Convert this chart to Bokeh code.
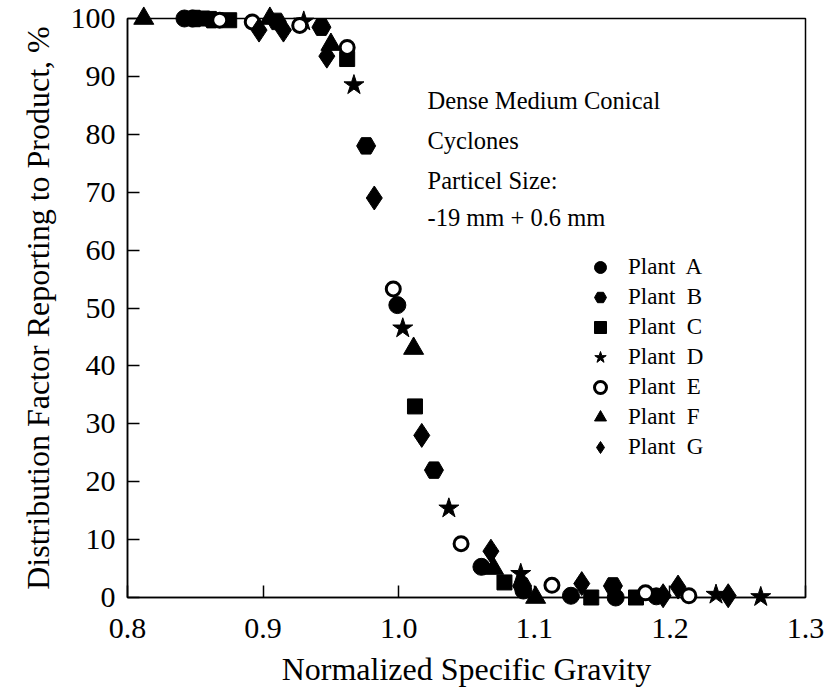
from bokeh.plotting import figure
from bokeh.models import (ColumnDataSource, FixedTicker, PrintfTickFormatter,
                          Label, Legend, LegendItem, Range1d)
from bokeh.embed import file_html
from bokeh.resources import INLINE

FONT = "Liberation Serif"

# Normalized specific gravity / distribution factor (%) for each plant
plant_a_x = [0.842, 0.848, 0.999, 1.061, 1.092, 1.127, 1.160, 1.190]
plant_a_y = [100.0, 100.0, 50.5, 5.3, 1.2, 0.3, 0.0, 0.2]

plant_b_x = [0.850, 0.862, 0.910, 0.943, 0.976, 1.026, 1.091, 1.158]
plant_b_y = [100.0, 99.8, 99.5, 98.5, 78.0, 22.0, 2.0, 2.0]

plant_c_x = [0.855, 0.875, 0.962, 1.012, 1.078, 1.142, 1.175]
plant_c_y = [100.0, 99.7, 93.0, 33.0, 2.6, 0.0, 0.0]

plant_d_x = [0.930, 0.967, 1.003, 1.037, 1.090, 1.234, 1.267]
plant_d_y = [99.5, 88.5, 46.5, 15.4, 4.1, 0.5, 0.1]

plant_e_x = [0.868, 0.892, 0.927, 0.962, 0.996, 1.046, 1.113, 1.182, 1.214]
plant_e_y = [99.7, 99.4, 98.8, 95.0, 53.3, 9.3, 2.1, 0.8, 0.3]

plant_f_x = [0.812, 0.905, 0.950, 1.011, 1.070, 1.101]
plant_f_y = [100.0, 100.0, 95.5, 43.0, 5.0, 0.0]

plant_g_x = [0.897, 0.915, 0.947, 0.982, 1.017, 1.068, 1.135, 1.195, 1.206, 1.243]
plant_g_y = [98.0, 98.0, 93.5, 69.0, 28.0, 8.0, 2.4, 0.3, 1.8, 0.3]

plant_names = ["A", "B", "C", "D", "E", "F", "G"]
x_ticks = [0.8, 0.9, 1.0, 1.1, 1.2, 1.3]
y_ticks = [0, 10, 20, 30, 40, 50, 60, 70, 80, 90, 100]

p = figure(width=828, height=693, output_backend="svg", toolbar_location=None,
           x_range=Range1d(0.8, 1.3), y_range=Range1d(0, 100),
           min_border_left=127, min_border_right=23,
           min_border_top=18, min_border_bottom=96)

p.background_fill_color = "white"
p.border_fill_color = "white"
p.outline_line_color = "black"
p.outline_line_width = 1.5
p.grid.visible = False

for ax in (p.xaxis[0], p.yaxis[0]):
    ax.axis_line_color = "black"
    ax.axis_line_width = 1.5
    ax.major_tick_in = 12
    ax.major_tick_out = 0
    ax.major_tick_line_width = 1.5
    ax.minor_tick_line_color = None
    ax.major_label_text_font = FONT
    ax.major_label_text_font_size = "30px"
    ax.major_label_text_color = "black"
    ax.axis_label_text_font = FONT
    ax.axis_label_text_font_size = "32px"
    ax.axis_label_text_font_style = "normal"
    ax.axis_label_text_color = "black"

p.xaxis.ticker = FixedTicker(ticks=x_ticks)
p.xaxis.formatter = PrintfTickFormatter(format="%.1f")
p.xaxis.major_label_standoff = 21
p.xaxis.axis_label = "Normalized Specific Gravity"
p.xaxis.axis_label_standoff = 10

p.yaxis.ticker = FixedTicker(ticks=y_ticks)
p.yaxis.major_label_standoff = 12
p.yaxis.axis_label = "Distribution Factor Reporting to Product, %"
p.yaxis.axis_label_standoff = 12

series = [
    (plant_a_x, plant_a_y, "circle", 17, "black", 1),
    (plant_b_x, plant_b_y, "hex", 19, "black", 1),
    (plant_c_x, plant_c_y, "square", 15, "black", 1),
    (plant_d_x, plant_d_y, "star", 21, "black", 1),
    (plant_e_x, plant_e_y, "circle", 14, "white", 3),
    (plant_f_x, plant_f_y, "triangle", 20, "black", 1),
    (plant_g_x, plant_g_y, "diamond", 24, "black", 1),
]

items = []
for name, (xs, ys, marker, size, fill, lw) in zip(plant_names, series):
    src = ColumnDataSource(data=dict(x=xs, y=ys))
    # drawn above the frame so markers sitting on 0 % and 100 % are not cut off
    r = p.scatter("x", "y", source=src, marker=marker, size=size,
                  fill_color=fill, line_color="black", line_width=lw,
                  level="overlay")
    items.append(LegendItem(label="Plant  " + name, renderers=[r]))

legend = Legend(items=items, location=(458, 135), orientation="vertical",
                background_fill_alpha=0, border_line_color=None,
                label_text_font=FONT, label_text_font_size="23px",
                label_text_color="black", glyph_width=30, glyph_height=30,
                spacing=0, padding=0, margin=0, label_standoff=13,
                label_height=30)
p.add_layout(legend)

notes = ["Dense Medium Conical", "Cyclones", "Particel Size:", "-19 mm + 0.6 mm"]
note_offsets = [497, 457, 417, 380]
for txt, yoff in zip(notes, note_offsets):
    p.add_layout(Label(x=300, y=yoff, x_units="screen", y_units="screen",
                       text=txt, text_font=FONT, text_font_size="24.5px",
                       text_baseline="middle", text_color="black"))

open("out.html", "w").write(file_html(p, INLINE))
